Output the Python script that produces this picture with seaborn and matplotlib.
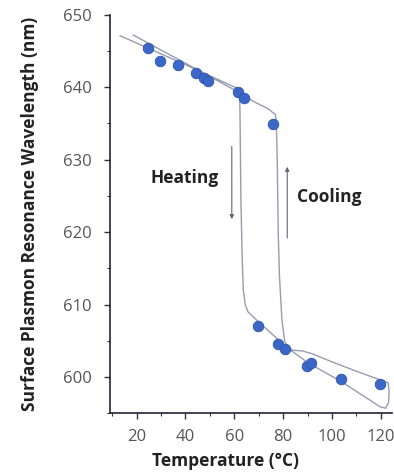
import numpy as np
import pandas as pd
import matplotlib
matplotlib.use("Agg")
from matplotlib import pyplot as plt
import seaborn as sns

# measured points (temperature, wavelength)
temp = [24.6, 29.5, 36.9, 44.3, 47.6, 49.2, 61.5, 64.0, 75.7,
        69.7, 77.9, 80.8, 89.8, 91.4, 103.7, 119.7]
wave = [645.4, 643.6, 643.1, 642.0, 641.2, 640.9, 639.3, 638.5, 634.9,
        607.1, 604.6, 603.9, 601.5, 601.9, 599.7, 599.1]

# hysteresis loop
heat_x = [13.2, 40.0, 62.2, 62.4, 62.7, 63.2, 63.7, 64.5, 65.6, 70.0, 81.5, 90.0,
          103.7, 119.7, 122.0, 123.2, 123.4, 123.0]
heat_y = [647.1, 643.1, 639.7, 635.0, 625.0, 617.0, 612.0, 610.0, 609.0, 607.6, 604.1, 602.0,
          599.4, 595.9, 595.7, 596.5, 598.0, 599.2]
cool_x = [123.0, 110.0, 100.0, 92.0, 88.0, 84.0, 82.0, 80.6, 79.5, 78.5, 78.0, 77.6,
          77.2, 76.8, 74.0, 68.0, 64.0, 40.0, 18.6]
cool_y = [599.2, 600.8, 602.1, 603.2, 603.6, 603.7, 604.0, 605.0, 608.0, 614.0, 620.0, 630.0,
          635.5, 636.2, 637.0, 638.0, 638.9, 643.3, 647.2]

df_pts = pd.DataFrame({"T": temp, "w": wave})
df_loop = pd.DataFrame({"T": heat_x + cool_x, "w": heat_y + cool_y})

sns.set_style("ticks")
plt.rcParams['font.family'] = ['Open Sans', 'DejaVu Sans']

fig = plt.figure(figsize=(3.94, 4.72), dpi=100)
ax = fig.add_axes([0.279, 0.1244, 0.716, 0.8445])

sns.lineplot(data=df_loop, x="T", y="w", sort=False, estimator=None,
             color="#9a9ab0", lw=1.0, ax=ax)
sns.scatterplot(data=df_pts, x="T", y="w", s=58, color="#3b68c6",
                edgecolor="#2c55a8", linewidth=0.6, zorder=3, ax=ax)

# arrows
ax.annotate("", xy=(59, 621.4), xytext=(59, 632.2),
            arrowprops=dict(arrowstyle="-|>", color="#666677", lw=0.8, mutation_scale=6))
ax.annotate("", xy=(81.7, 629.4), xytext=(81.7, 618.8),
            arrowprops=dict(arrowstyle="-|>", color="#666677", lw=0.8, mutation_scale=6))
ax.text(39.8, 627.4, "Heating", ha="center", va="center", fontsize=12.5,
        fontweight="bold", color="#222222")
ax.text(98.8, 624.8, "Cooling", ha="center", va="center", fontsize=12.5,
        fontweight="bold", color="#222222")

ax.set_xlim(9.1, 124.6)
ax.set_ylim(595, 650)
ax.set_xticks([20, 40, 60, 80, 100, 120])
ax.set_xticks(np.arange(10, 125, 10), minor=True)
ax.set_yticks([600, 610, 620, 630, 640, 650])
ax.set_yticks(np.arange(595, 651, 5), minor=True)
ax.tick_params(which="major", length=4, width=1, color="#333333",
               labelsize=12, labelcolor="#555555")
ax.tick_params(axis="y", which="major", pad=9)
ax.tick_params(axis="x", which="major", pad=7)
ax.tick_params(which="minor", length=2.5, width=0.8, color="#333333")
for s in ["left", "bottom"]:
    ax.spines[s].set_color("#222233")
    ax.spines[s].set_linewidth(1.2)
sns.despine(ax=ax)

ax.set_xlabel("Temperature (°C)", fontsize=12.5, fontweight="bold", color="#222222")
ax.xaxis.set_label_coords(0.408, -0.096)
ax.set_ylabel("Surface Plasmon Resonance Wavelength (nm)", fontsize=12.5,
              fontweight="bold", color="#222222", labelpad=17)

fig.savefig("out.png", dpi=100)
